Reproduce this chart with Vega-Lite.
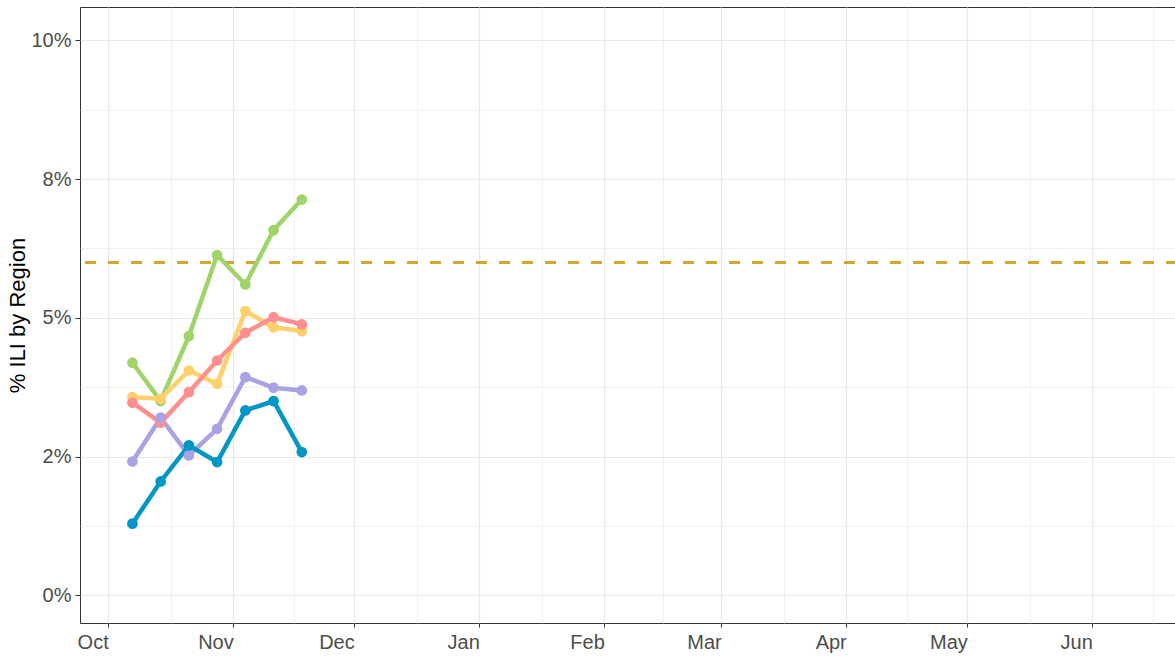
{
  "$schema": "https://vega.github.io/schema/vega-lite/v6.json",
  "autosize": {"type": "none"},
  "padding": {"left": 80, "top": 7, "right": 0, "bottom": 34},
  "width": 1097,
  "height": 616,
  "background": "white",
  "config": {
    "view": {"stroke": "#333333", "strokeWidth": 1},
    "font": "Liberation Sans",
    "axis": {
      "labelFont": "Liberation Sans",
      "titleFont": "Liberation Sans",
      "labelFontSize": 20,
      "labelColor": "#4D4D4D",
      "tickColor": "#333333",
      "tickSize": 5,
      "tickWidth": 1,
      "domain": false,
      "gridColor": "#E8E8E8"
    }
  },
  "data": {
    "values": [
      {"week": "2023-10-07", "region": "Region 1", "ili": 4.19},
      {"week": "2023-10-14", "region": "Region 1", "ili": 3.50},
      {"week": "2023-10-21", "region": "Region 1", "ili": 4.67},
      {"week": "2023-10-28", "region": "Region 1", "ili": 6.13},
      {"week": "2023-11-04", "region": "Region 1", "ili": 5.60},
      {"week": "2023-11-11", "region": "Region 1", "ili": 6.58},
      {"week": "2023-11-18", "region": "Region 1", "ili": 7.13},
      {"week": "2023-10-07", "region": "Region 2", "ili": 3.57},
      {"week": "2023-10-14", "region": "Region 2", "ili": 3.54},
      {"week": "2023-10-21", "region": "Region 2", "ili": 4.05},
      {"week": "2023-10-28", "region": "Region 2", "ili": 3.81},
      {"week": "2023-11-04", "region": "Region 2", "ili": 5.12},
      {"week": "2023-11-11", "region": "Region 2", "ili": 4.83},
      {"week": "2023-11-18", "region": "Region 2", "ili": 4.76},
      {"week": "2023-10-07", "region": "Region 3", "ili": 3.47},
      {"week": "2023-10-14", "region": "Region 3", "ili": 3.11},
      {"week": "2023-10-21", "region": "Region 3", "ili": 3.66},
      {"week": "2023-10-28", "region": "Region 3", "ili": 4.23},
      {"week": "2023-11-04", "region": "Region 3", "ili": 4.73},
      {"week": "2023-11-11", "region": "Region 3", "ili": 5.01},
      {"week": "2023-11-18", "region": "Region 3", "ili": 4.88},
      {"week": "2023-10-07", "region": "Region 4", "ili": 2.41},
      {"week": "2023-10-14", "region": "Region 4", "ili": 3.20},
      {"week": "2023-10-21", "region": "Region 4", "ili": 2.52},
      {"week": "2023-10-28", "region": "Region 4", "ili": 3.00},
      {"week": "2023-11-04", "region": "Region 4", "ili": 3.93},
      {"week": "2023-11-11", "region": "Region 4", "ili": 3.74},
      {"week": "2023-11-18", "region": "Region 4", "ili": 3.69},
      {"week": "2023-10-07", "region": "Region 5", "ili": 1.29},
      {"week": "2023-10-14", "region": "Region 5", "ili": 2.05},
      {"week": "2023-10-21", "region": "Region 5", "ili": 2.70},
      {"week": "2023-10-28", "region": "Region 5", "ili": 2.40},
      {"week": "2023-11-04", "region": "Region 5", "ili": 3.33},
      {"week": "2023-11-11", "region": "Region 5", "ili": 3.50},
      {"week": "2023-11-18", "region": "Region 5", "ili": 2.58}
    ]
  },
  "resolve": {"axis": {"x": "independent", "y": "independent"}},
  "layer": [
    {
      "mark": {"type": "rule", "color": "#D4A52C", "strokeWidth": 2.5, "strokeDash": [11, 12]},
      "encoding": {
        "y": {"datum": 6.0, "type": "quantitative", "axis": null}
      }
    },
    {
      "mark": {"type": "line", "strokeWidth": 4.5},
      "encoding": {
        "x": {
          "field": "week", "type": "temporal",
          "scale": {"type": "utc", "domain": [1695513600000, 1719014400000]},
          "axis": {
            "orient": "bottom",
            "labels": false, "ticks": false, "title": null,
            "grid": true, "gridWidth": 0.6,
            "values": [1697457600000, 1700092800000, 1702728000000, 1705406400000, 1707998400000, 1710590400000, 1713225600000, 1715860800000, 1718496000000]
          }
        },
        "y": {
          "field": "ili", "type": "quantitative",
          "scale": {"domain": [-0.5, 10.6], "nice": false, "zero": false},
          "axis": {
            "orient": "left",
            "labels": false, "ticks": false, "title": null,
            "grid": true, "gridWidth": 0.6,
            "values": [1.25, 3.75, 6.25, 8.75]
          }
        },
        "color": {
          "field": "region", "type": "nominal", "legend": null,
          "scale": {
            "domain": ["Region 1", "Region 2", "Region 3", "Region 4", "Region 5"],
            "range": ["#9FD46A", "#FFCF6A", "#FF8E8E", "#A9A3E6", "#0096C6"]
          }
        }
      }
    },
    {
      "mark": {"type": "point", "filled": true, "opacity": 1, "size": 115},
      "encoding": {
        "x": {
          "field": "week", "type": "temporal",
          "scale": {"type": "utc", "domain": [1695513600000, 1719014400000]},
          "axis": {
            "orient": "bottom",
            "grid": true, "gridWidth": 1.2,
            "title": null,
            "tickSize": 4,
            "labelPadding": 5,
            "labelAlign": "right",
            "labelBaseline": "top",
            "values": [1696118400000, 1698796800000, 1701388800000, 1704067200000, 1706745600000, 1709251200000, 1711929600000, 1714521600000, 1717200000000],
            "labelExpr": "utcFormat(datum.value, '%b')"
          }
        },
        "y": {
          "field": "ili", "type": "quantitative",
          "scale": {"domain": [-0.5, 10.6], "nice": false, "zero": false},
          "axis": {
            "orient": "left",
            "grid": true, "gridWidth": 1.2,
            "values": [0, 2.5, 5, 7.5, 10],
            "labelExpr": "datum.value == 2.5 ? '2%' : (datum.value == 7.5 ? '8%' : datum.value + '%')",
            "labelPadding": 4,
            "title": "% ILI by Region",
            "titleFontSize": 22,
            "titleFontWeight": "normal",
            "titleColor": "#000000",
            "titlePadding": 1
          }
        },
        "color": {
          "field": "region", "type": "nominal", "legend": null,
          "scale": {
            "domain": ["Region 1", "Region 2", "Region 3", "Region 4", "Region 5"],
            "range": ["#9FD46A", "#FFCF6A", "#FF8E8E", "#A9A3E6", "#0096C6"]
          }
        }
      }
    }
  ]
}
